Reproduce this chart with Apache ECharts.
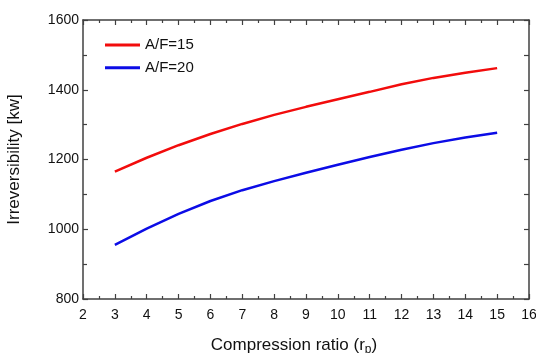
<!DOCTYPE html>
<html><head><meta charset="utf-8">
<script src="https://cdn.jsdelivr.net/npm/echarts@6/dist/echarts.min.js"></script>
<style>html,body{margin:0;padding:0;background:#fff}#c{width:536px;height:353px}</style>
</head><body><div id="c"></div>
<script>
var xValues = [3,4,5,6,7,8,9,10,11,12,13,14,15];
var af15 = [1165,1205,1241,1273,1302,1328,1351,1373,1394,1416,1434,1449,1462];
var af20 = [955,1002,1044,1081,1112,1138,1162,1185,1207,1228,1247,1263,1277];
var seriesNames = ['A/F=15','A/F=20'];
var xTitle = '{a|Compression ratio (r}{b|p}{a|)}';
var yTitle = 'Irreversibility [kw]';

function pairs(xs, ys){ return xs.map(function(x,i){return [x, ys[i]];}); }
var axisCol = '#404040';
var font = '"Liberation Sans", Arial, sans-serif';
var chart = echarts.init(document.getElementById('c'));
var baseX = {
  type:'value', min:2, max:16, interval:1,
  axisLine:{show:true, onZero:false, lineStyle:{color:axisCol, width:1.5}},
  axisTick:{show:true, inside:true, length:5, lineStyle:{color:axisCol, width:1.2}},
  minorTick:{show:true, splitNumber:2, length:3, lineStyle:{color:axisCol, width:1.2}},
  splitLine:{show:false}
};
var baseY = {
  type:'value', min:800, max:1600, interval:200,
  axisLine:{show:true, onZero:false, lineStyle:{color:axisCol, width:1.5}},
  axisTick:{show:true, inside:true, length:5, lineStyle:{color:axisCol, width:1.2}},
  minorTick:{show:true, splitNumber:2, length:4, lineStyle:{color:axisCol, width:1.2}},
  splitLine:{show:false}
};
chart.setOption({
  animation:false,
  backgroundColor:'#fff',
  grid:{left:83, right:7, top:20, bottom:54, containLabel:false, outerBoundsMode:'none'},
  legend:{
    orient:'vertical', left:105, top:36, padding:0, itemWidth:35, itemHeight:3, itemGap:4.7,
    icon:'rect', itemTextGap:2,
    textStyle:{fontFamily:font, fontSize:15, color:'#111', lineHeight:18},
    data:seriesNames
  },
  xAxis:[
    Object.assign({}, baseX, {
      position:'bottom',
      axisLabel:{show:true, fontFamily:font, fontSize:14, color:'#111', margin:9},
      name:xTitle, nameLocation:'middle', nameGap:36,
      nameTextStyle:{padding:[0,24,0,0], rich:{
        a:{fontFamily:font, fontSize:17, color:'#111'},
        b:{fontFamily:font, fontSize:12, color:'#111', padding:[9,0,0,0]}
      }}
    }),
    Object.assign({}, baseX, {position:'top', axisLabel:{show:false}})
  ],
  yAxis:[
    Object.assign({}, baseY, {
      position:'left',
      axisLabel:{show:true, fontFamily:font, fontSize:14, color:'#111', margin:4,
        formatter:function(v){return String(v);}},
      name:yTitle, nameLocation:'middle', nameGap:60,
      nameTextStyle:{fontFamily:font, fontSize:17, color:'#111'}
    }),
    Object.assign({}, baseY, {position:'right', axisLabel:{show:false},
      minorTick:{show:true, splitNumber:2, length:5, lineStyle:{color:axisCol, width:1.2}}})
  ],
  series:[
    {name:seriesNames[0], type:'line', data:pairs(xValues, af15), symbol:'none',
     smooth:false, lineStyle:{color:'#f20c0c', width:2.5}, itemStyle:{color:'#f20c0c'}},
    {name:seriesNames[1], type:'line', data:pairs(xValues, af20), symbol:'none',
     smooth:false, lineStyle:{color:'#0c0ce6', width:2.5}, itemStyle:{color:'#0c0ce6'}}
  ]
});
</script></body></html>
